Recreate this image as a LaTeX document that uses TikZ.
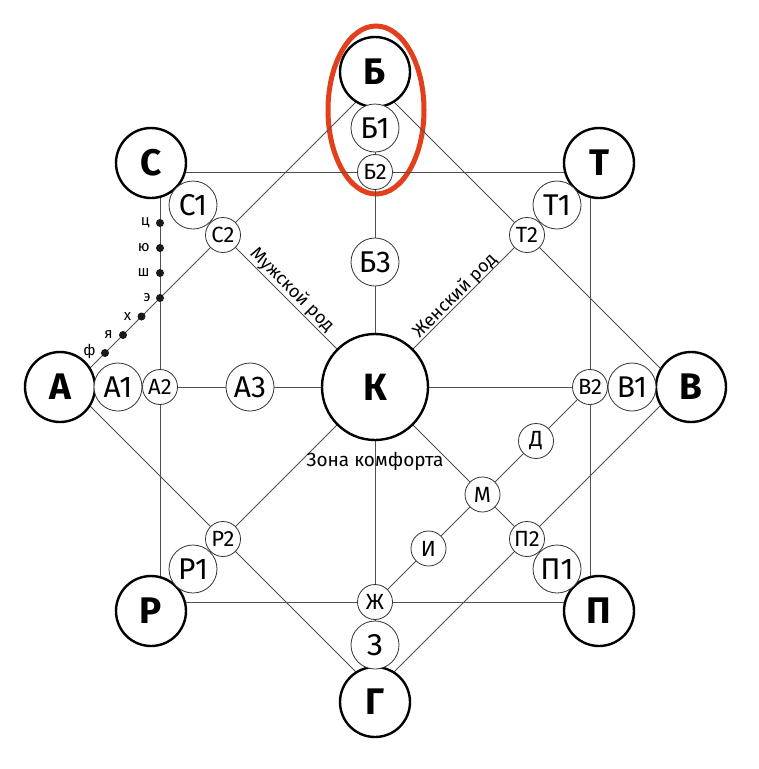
\documentclass[tikz,border=0pt]{standalone}
\usepackage{fontspec}
\setmainfont{Fira Sans}
\usetikzlibrary{positioning}
\pgfdeclarelayer{back}
\pgfdeclarelayer{bg}
\pgfsetlayers{back,bg,main}
\definecolor{ovalred}{RGB}{226,64,28}
\definecolor{linegray}{RGB}{80,80,80}
\newcommand{\fsz}[1]{\fontsize{#1}{#1}\selectfont}
\begin{document}
\begin{tikzpicture}[x=1pt,y=-1pt,
 big/.style={circle,draw=black,line width=2.4pt,fill=white,minimum size=70pt,inner sep=0pt,font=\fsz{37}\bfseries},
 core/.style={big,minimum size=106pt,font=\fsz{38}\bfseries},
 mid/.style={circle,draw=black!80,line width=0.8pt,fill=white,minimum size=48pt,inner sep=0pt,font=\fsz{30}},
 small/.style={mid,minimum size=35pt,font=\fsz{22}},
 thin/.style={draw=linegray,line width=0.9pt},
 dotn/.style={circle,fill=black!90,minimum size=8pt,inner sep=0pt},
 dotlab/.style={font=\fsz{15},inner sep=0pt},
 caption/.style={font=\fsz{18},inner sep=0pt},
]
\begin{pgfonlayer}{back}
\fill[white] (0,0) rectangle (759,769);
\useasboundingbox (0,0) rectangle (759,769);
\draw[ovalred,line width=5pt] (376,110) ellipse [x radius=48pt,y radius=84pt];
\end{pgfonlayer}

% centre
\node[core] (K) at (375,387) {К};
% vertical axis
\node[big] (B) at (375,72) {Б};
\node[mid] (B1) at (375,128) {Б1};
\node[small] (B2) at (375,172) {Б2};
\node[mid] (B3) at (375,262) {Б3};
\node[big] (G) at (375,702) {Г};
\node[mid] (Z) at (375,645) {З};
\node[small] (Zh) at (375,602) {Ж};
% horizontal axis
\node[big] (A) at (60,387) {А};
\node[mid] (A1) at (118,387) {А1};
\node[small] (A2) at (160,387) {А2};
\node[mid] (A3) at (250,387) {А3};
\node[big] (V) at (691,387) {В};
\node[mid] (V1) at (632,387) {В1};
\node[small] (V2) at (590,387) {В2};
% diagonals
\node[big] (S) at (151,163) {С};
\node[mid] (S1) at (193,205) {С1};
\node[small] (S2) at (223,235) {С2};
\node[big] (T) at (599,163) {Т};
\node[mid] (T1) at (557,205) {Т1};
\node[small] (T2) at (527,235) {Т2};
\node[big] (R) at (151,611) {Р};
\node[mid] (R1) at (193,569) {Р1};
\node[small] (R2) at (223,539) {Р2};
\node[big] (P) at (599,611) {П};
\node[mid] (P1) at (557,569) {П1};
\node[small] (P2) at (527,539) {П2};
% inner chain
\node[small] (D) at (536,441) {Д};
\node[small] (M) at (482.5,494.5) {М};
\node[small] (I) at (428.5,548.5) {И};

% geometry corners
\coordinate (qS) at (160,172);
\coordinate (qT) at (590,172);
\coordinate (qP) at (590,602);
\coordinate (qR) at (160,602);
\coordinate (dB) at (375,83);
\coordinate (dV) at (679,387);
\coordinate (dG) at (375,691);
\coordinate (dA) at (71,387);

\begin{pgfonlayer}{bg}
\draw[thin] (qS) -- (qT) -- (qP) -- (qR) -- cycle;
\draw[thin] (dB) -- (dV) -- (dG) -- (dA) -- cycle;
\draw[thin] (B.center) -- (G.center);
\draw[thin] (A.center) -- (V.center);
\draw[thin] (S.center) -- (P.center);
\draw[thin] (T.center) -- (R.center);
\draw[thin] (V2.center) -- (Zh.center);
\end{pgfonlayer}

% dots on the left
\node[dotn] (c1) at (160,223) {};
\node[dotn] (c2) at (160,248) {};
\node[dotn] (c3) at (160,273) {};
\node[dotn] (c4) at (160,298) {};
\node[dotn] (c5) at (141.5,316.5) {};
\node[dotn] (c6) at (123,335) {};
\node[dotn] (c7) at (105,353) {};
\node[dotlab,left=6pt of c1] (l1) {ц};
\node[dotlab,left=6pt of c2] (l2) {ю};
\node[dotlab,left=6pt of c3] (l3) {ш};
\node[dotlab,left=5pt of c4] (l4) {э};
\node[dotlab,left=6pt of c5] (l5) {х};
\node[dotlab,left=6pt of c6] (l6) {я};
\node[dotlab,left=5pt of c7,yshift=2pt] (l7) {ф};

% captions
\node[caption,rotate=-45] (men) at (292,290) {Мужской род};
\node[caption,rotate=45] (women) at (455,296) {Женский род};
\node[caption,font=\fsz{19}] (zone) at (375,461) {Зона комфорта};
\end{tikzpicture}
\end{document}
